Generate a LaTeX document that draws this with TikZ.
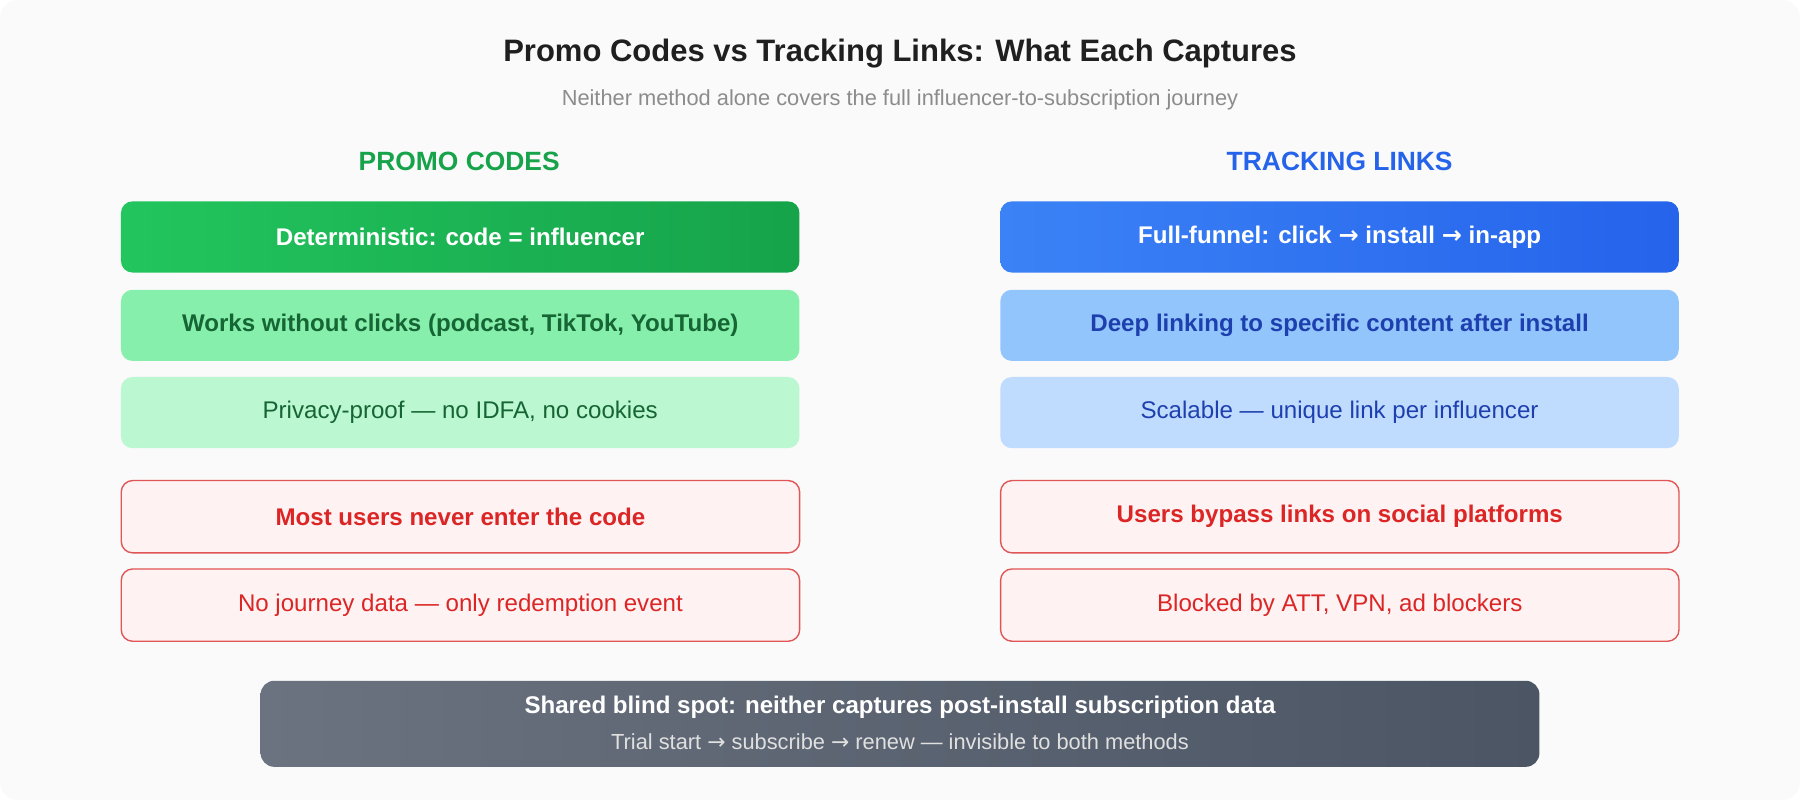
\documentclass[tikz,border=0pt]{standalone}
\usepackage{fontspec}
\setmainfont{Liberation Sans}
\newfontfamily\arr{DejaVu Sans}
\newcommand{\ra}{{\arr\char"2192}}
\definecolor{bg}{HTML}{FAFAFA}
\definecolor{gA}{HTML}{22C55E}\definecolor{gB}{HTML}{16A34A}
\definecolor{gC}{HTML}{86EFAC}\definecolor{gD}{HTML}{BBF7D0}\definecolor{gT}{HTML}{166534}
\definecolor{bA}{HTML}{3B82F6}\definecolor{bB}{HTML}{2563EB}
\definecolor{bC}{HTML}{93C5FD}\definecolor{bD}{HTML}{BFDBFE}\definecolor{bT}{HTML}{1E40AF}
\definecolor{rF}{HTML}{FEF2F2}\definecolor{rB}{HTML}{E05555}\definecolor{rT}{HTML}{DC2626}
\definecolor{sA}{HTML}{6B7280}\definecolor{sB}{HTML}{4B5563}
\begin{document}
\begin{tikzpicture}[x=0.5pt,y=-0.5pt,
  box/.style={rounded corners=5pt,minimum width=295.5pt,minimum height=31pt,anchor=north west,font=\fontsize{10.5}{12}\selectfont,inner sep=0pt},
  b1/.style={box,text=white,font=\fontsize{10.5}{12}\selectfont\bfseries},
  b2/.style={box,font=\fontsize{10.5}{12}\selectfont\bfseries},
  b3/.style={box},
  bad/.style={box,fill=rF,draw=rB,line width=0.6pt,text=rT,minimum height=31.5pt},
  hd/.style={font=\fontsize{11.5}{13}\selectfont\bfseries}]
\fill[bg,rounded corners=8pt] (0,0) rectangle (1568,697);
\useasboundingbox (0,0) rectangle (1568,697);
\node[font=\fontsize{13.5}{15}\selectfont\bfseries,text=black!88] (t) at (784,47) {Promo Codes vs Tracking Links: What Each Captures};
\node[font=\fontsize{9.5}{11}\selectfont,text=black!45] (st) at (784,87) {Neither method alone covers the full influencer-to-subscription journey};
\node[hd,text=gB] (hl) at (400,141) {PROMO CODES};
\node[hd,text=bB] (hr) at (1167,141) {TRACKING LINKS};
\node[b1,left color=gA,right color=gB] (l1) at (105,175) {Deterministic: code = influencer};
\node[b2,fill=gC,text=gT] (l2) at (105,252) {Works without clicks (podcast, TikTok, YouTube)};
\node[b3,fill=gD,text=gT] (l3) at (105,328) {Privacy-proof — no IDFA, no cookies};
\node[bad,font=\fontsize{10.5}{12}\selectfont\bfseries] (l4) at (105,418) {Most users never enter the code};
\node[bad] (l5) at (105,495) {No journey data — only redemption event};
\node[b1,left color=bA,right color=bB] (r1) at (871,175) {Full-funnel: click \ra{} install \ra{} in-app};
\node[b2,fill=bC,text=bT] (r2) at (871,252) {Deep linking to specific content after install};
\node[b3,fill=bD,text=bT] (r3) at (871,328) {Scalable — unique link per influencer};
\node[bad,font=\fontsize{10.5}{12}\selectfont\bfseries] (r4) at (871,418) {Users bypass links on social platforms};
\node[bad] (r5) at (871,495) {Blocked by ATT, VPN, ad blockers};
\shade[left color=sA,right color=sB,rounded corners=6pt] (227,593) rectangle (1341,668);
\node[font=\fontsize{10.5}{12}\selectfont\bfseries,text=white] (s1) at (784,616) {Shared blind spot: neither captures post-install subscription data};
\node[font=\fontsize{9.5}{11}\selectfont,text=black!12] (s2) at (784,646) {Trial start \ra{} subscribe \ra{} renew — invisible to both methods};
\end{tikzpicture}
\end{document}
